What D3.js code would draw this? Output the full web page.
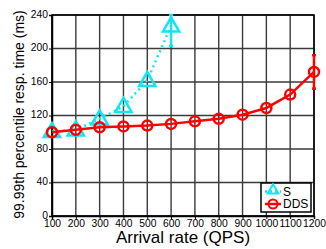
<!DOCTYPE html>
<html>
<head>
<meta charset="utf-8">
<script src="https://cdn.jsdelivr.net/npm/d3@7"></script>
<style>
  html, body { margin: 0; padding: 0; background: #fff; }
  svg { display: block; font-family: "Liberation Sans", Arial, sans-serif; }
</style>
</head>
<body>
<div id="chart"></div>
<script>
// ── Data ────────────────────────────────────────────────────
const rates    = [100, 200, 300, 400, 500, 600, 700, 800, 900, 1000, 1100, 1200];
const ddsTime  = [100, 103, 106, 107, 108, 110, 113, 116, 121, 129, 145, 172];
const ddsErr   = [0, 0, 0, 0, 0, 0, 0, 0, 0, 0, 0, 20];
const sRates   = [100, 200, 300, 400, 500, 600];
const sTime    = [101, 103, 116, 131, 162, 227];
const sErr     = [0, 0, 0, 0, 0, 24];
const yTicks   = [0, 40, 80, 120, 160, 200, 240];

const W = 326, H = 249;
const M = { left: 52, right: 12, top: 15, bottom: 33 };

const svg = d3.select("#chart").append("svg")
  .attr("width", W).attr("height", H);

const x = d3.scaleLinear().domain([100, 1200]).range([M.left, W - M.right]);
const y = d3.scaleLinear().domain([0, 240]).range([H - M.bottom, M.top]);

// ── Grid ───────────────────────────────────────────────────
const grid = svg.append("g");
grid.selectAll("line.v").data(rates).enter().append("line")
  .attr("x1", d => x(d)).attr("x2", d => x(d))
  .attr("y1", y(0)).attr("y2", y(240))
  .attr("stroke", "#3a3a3a").attr("stroke-width", 1.4);
grid.selectAll("line.h").data(yTicks).enter().append("line")
  .attr("x1", x(100)).attr("x2", x(1200))
  .attr("y1", d => y(d)).attr("y2", d => y(d))
  .attr("stroke", "#3a3a3a").attr("stroke-width", 1.4);

// ── Axes ───────────────────────────────────────────────────
const xAxis = svg.append("g")
  .attr("transform", `translate(0,${y(0)})`)
  .call(d3.axisBottom(x).tickValues(rates).tickSize(3).tickFormat(d3.format("d")));
xAxis.select(".domain").attr("stroke", "#000").attr("stroke-width", 1.5);
xAxis.selectAll("text").attr("font-size", 10.3).attr("fill", "#000")
  .attr("font-family", "'Liberation Sans', Arial, sans-serif")
  .attr("y", 4).attr("dy", "0.71em");

const yAxis = svg.append("g")
  .attr("transform", `translate(${x(100)},0)`)
  .call(d3.axisLeft(y).tickValues(yTicks).tickSize(3));
yAxis.select(".domain").attr("stroke", "#000").attr("stroke-width", 1.5);
yAxis.selectAll("text").attr("font-size", 10.3).attr("fill", "#000")
  .attr("font-family", "'Liberation Sans', Arial, sans-serif")
  .attr("x", -4).attr("dy", "0.22em");

// box around plot
svg.append("rect")
  .attr("x", x(100)).attr("y", y(240))
  .attr("width", x(1200) - x(100)).attr("height", y(0) - y(240))
  .attr("fill", "none").attr("stroke", "#000").attr("stroke-width", 1.5);

// ── Labels ─────────────────────────────────────────────────
svg.append("text")
  .attr("x", (x(100) + x(1200)) / 2).attr("y", 243)
  .attr("text-anchor", "middle").attr("font-size", 17)
  .text("Arrival rate (QPS)");

svg.append("text")
  .attr("transform", `translate(24,${(y(0) + y(240)) / 2 - 1}) rotate(-90)`)
  .attr("text-anchor", "middle").attr("font-size", 14)
  .text("99.99th percentile resp. time (ms)");

// ── Series ─────────────────────────────────────────────────
const CYAN = "#10e6f2", RED = "#ff0000";
const line = d3.line().x(d => x(d[0])).y(d => y(d[1]));
const tri = d3.symbol().type(d3.symbolTriangle).size(115);

const sData = sRates.map((r, i) => [r, sTime[i], sErr[i]]);
const dData = rates.map((r, i) => [r, ddsTime[i], ddsErr[i]]);

function errBars(data, color) {
  const g = svg.append("g").attr("stroke", color).attr("stroke-width", 2.5);
  data.filter(d => d[2] > 0).forEach(d => {
    const top = y(Math.min(240, d[1] + d[2])), bot = y(d[1] - d[2]);
    g.append("line").attr("x1", x(d[0])).attr("x2", x(d[0])).attr("y1", top).attr("y2", bot);
    g.append("line").attr("x1", x(d[0]) - 2).attr("x2", x(d[0]) + 2).attr("y1", top).attr("y2", top);
    g.append("line").attr("x1", x(d[0]) - 2).attr("x2", x(d[0]) + 2).attr("y1", bot).attr("y2", bot);
  });
}

// S (dotted cyan with triangles)
svg.append("path").datum(sData).attr("d", line)
  .attr("fill", "none").attr("stroke", CYAN).attr("stroke-width", 2.5)
  .attr("stroke-dasharray", "2,3.5");
errBars(sData, CYAN);
svg.selectAll("path.s").data(sData).enter().append("path")
  .attr("d", tri).attr("transform", d => `translate(${x(d[0])},${y(d[1]) + 1})`)
  .attr("fill", "none").attr("stroke", CYAN).attr("stroke-width", 2.5);

// DDS (solid red with circles)
svg.append("path").datum(dData).attr("d", line)
  .attr("fill", "none").attr("stroke", RED).attr("stroke-width", 2.5);
errBars(dData, RED);
svg.selectAll("circle.d").data(dData).enter().append("circle")
  .attr("cx", d => x(d[0])).attr("cy", d => y(d[1])).attr("r", 5)
  .attr("fill", "none").attr("stroke", RED).attr("stroke-width", 2.5);

// ── Legend ─────────────────────────────────────────────────
const lg = svg.append("g").attr("transform", "translate(261,183)");
lg.append("rect").attr("width", 50).attr("height", 29)
  .attr("fill", "#fff").attr("stroke", "#000").attr("stroke-width", 1.5);
const items = [
  { label: "S",   color: CYAN, dash: "2,3", mark: "tri", yy: 8.5 },
  { label: "DDS", color: RED,  dash: null,  mark: "circ", yy: 21 }
];
items.forEach(it => {
  lg.append("line").attr("x1", 4).attr("x2", 20).attr("y1", it.yy).attr("y2", it.yy)
    .attr("stroke", it.color).attr("stroke-width", 2.5)
    .attr("stroke-dasharray", it.dash);
  if (it.mark === "tri") {
    lg.append("path").attr("d", d3.symbol().type(d3.symbolTriangle).size(50))
      .attr("transform", `translate(12,${it.yy - 1})`)
      .attr("fill", "none").attr("stroke", it.color).attr("stroke-width", 2);
  } else {
    lg.append("circle").attr("cx", 12).attr("cy", it.yy).attr("r", 4.5)
      .attr("fill", "none").attr("stroke", it.color).attr("stroke-width", 2);
  }
  lg.append("text").attr("x", 22).attr("y", it.yy + 4)
    .attr("font-size", 12).text(it.label);
});
</script>
</body>
</html>
